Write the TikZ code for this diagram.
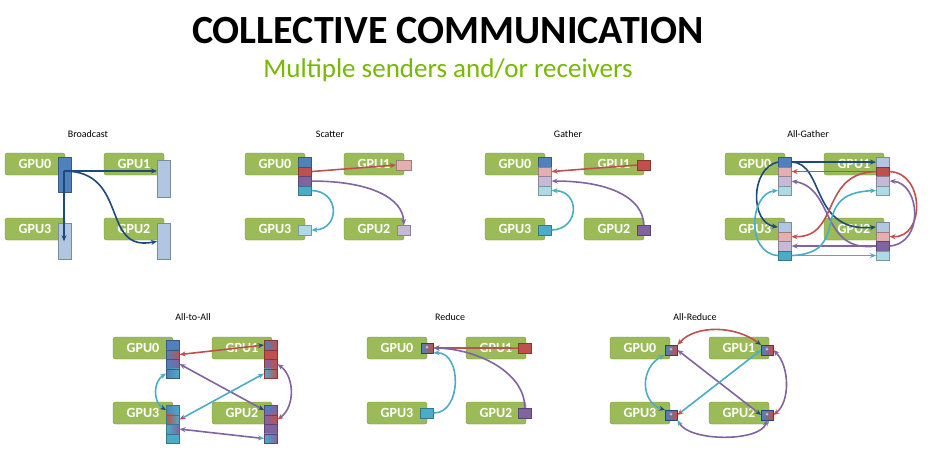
\documentclass[tikz,border=0pt]{standalone}
\usepackage{fontspec}
\setmainfont{Carlito}
\usetikzlibrary{arrows.meta}
\definecolor{gg}{RGB}{155,187,89}
\definecolor{ggd}{RGB}{118,146,60}
\definecolor{nv}{RGB}{118,185,0}
\definecolor{cb}{RGB}{79,129,189}
\definecolor{cr}{RGB}{192,80,77}
\definecolor{cp}{RGB}{128,100,162}
\definecolor{cc}{RGB}{75,172,198}
\definecolor{cd}{RGB}{31,73,125}
\colorlet{lb}{cb!45!white}
\colorlet{lr}{cr!45!white}
\colorlet{lp}{cp!45!white}
\colorlet{lc}{cc!45!white}
\tikzset{
 gpu/.style={draw=ggd,fill=gg,rounded corners=2.5pt,minimum width=60pt,minimum height=22pt,inner sep=0pt,text=white,font=\fontsize{14}{14}\selectfont\bfseries},
 chunk/.style={draw=#1!70!black,fill=#1,anchor=north west,minimum width=13pt,minimum height=9.5pt,inner sep=0pt,line width=0.6pt},
 pl/.style={font=\fontsize{10}{10}\selectfont},
 ar/.style={line width=1.6pt,-{Stealth[length=6pt,width=5pt]}},
 br/.style={line width=1.6pt,{Stealth[length=6pt,width=5pt]}-{Stealth[length=6pt,width=5pt,color=#1]}},
 plus/.style={anchor=north west,minimum width=12pt,minimum height=9.5pt,inner sep=0pt,draw=cd,left color=cb,right color=cr,text=white,font=\fontsize{6}{6}\selectfont\bfseries}
}
\newcommand\gpus[1]{%
 \node[gpu] (#1g0) at (30,11) {GPU0};
 \node[gpu] (#1g1) at (129,11) {GPU1};
 \node[gpu] (#1g3) at (30,76) {GPU3};
 \node[gpu] (#1g2) at (129,76) {GPU2};}
\newcommand\colm[7]{%
 \node[chunk=#4] (#1-0) at (#2,#3) {};
 \node[chunk=#5] (#1-1) at (#2,#3+9.5) {};
 \node[chunk=#6] (#1-2) at (#2,#3+19) {};
 \node[chunk=#7] (#1-3) at (#2,#3+28.5) {};}
\newcommand\gcol[6]{%
 \node[chunk=cb,shading=axis,left color=#3,right color=#3] (#1-0) at #2 {};}
\begin{document}
\begin{tikzpicture}[x=1pt,y=-1pt]
\useasboundingbox (0,0) rectangle (928,453);
\node[font=\fontsize{40}{40}\selectfont\bfseries] (title) at (448,31) {COLLECTIVE COMMUNICATION};
\node[font=\fontsize{27}{27}\selectfont,text=nv] (sub) at (448,70) {Multiple senders and/or receivers};
% Broadcast
\begin{scope}[shift={(5,153)}]
\node[pl] (bl) at (83,-19) {Broadcast};
\gpus{b}
\node[chunk=cb,minimum height=35pt] (b0) at (53,4) {};
\node[chunk=lb,minimum height=37pt] (b1) at (152,7) {};
\node[chunk=lb,minimum height=36pt] (b3) at (53,70) {};
\node[chunk=lb,minimum height=36pt] (b2) at (152,70) {};
\coordinate (bs) at (59,18);
\draw[ar,cd] (bs) -- (b1.west |- bs);
\draw[ar,cd] (bs) -- (bs |- b3.center);
\draw[ar,cd] (bs) .. controls (125,18) and (95,100) .. (b2.west);
\end{scope}
% Scatter
\begin{scope}[shift={(245,153)}]
\node[pl] (sl) at (85,-19) {Scatter};
\gpus{s}
\colm{s0}{53}{4}{cb}{cr}{cp}{cc}
\node[chunk=lr,minimum width=15pt] (s1) at (151,7) {};
\node[chunk=lp] (s2) at (152,72) {};
\node[chunk=lc] (s3) at (53,72) {};
\draw[ar,cr] (s0-1.east) -- (s1.west);
\draw[ar,cp] (s0-2.east) .. controls (125,28) and (158,45) .. (s2.north);
\draw[ar,cc] (s0-3.east) .. controls (95,38) and (95,76) .. (s3.east);
\end{scope}
% Gather
\begin{scope}[shift={(485,153)}]
\node[pl] (gl) at (83,-19) {Gather};
\gpus{h}
\colm{h0}{53}{4}{cb}{lr}{lp}{lc}
\node[chunk=cr] (h1) at (152,7) {};
\node[chunk=cp] (h2) at (152,72) {};
\node[chunk=cc] (h3) at (53,72) {};
\draw[ar,cr] (h1.west) -- (h0-1.east);
\draw[ar,cp] (h2.north) .. controls (158,45) and (125,28) .. (h0-2.east);
\draw[ar,cc] (h3.east) .. controls (95,76) and (95,38) .. (h0-3.east);
\end{scope}
% All-Gather
\begin{scope}[shift={(725,153)}]
\node[pl] (al) at (83,-19) {All-Gather};
\gpus{a}
\colm{a0}{53}{4}{cb}{lr}{lp}{lc}
\colm{a1}{151}{4}{lb}{cr}{lp}{lc}
\colm{a2}{151}{69}{lb}{lr}{cp}{lc}
\colm{a3}{53}{69}{lb}{lr}{lp}{cc}
\draw[ar,cd] (a0-0.east) -- (a1-0.west);
\draw[ar,cd] (a0-0.west) .. controls (25,15) and (25,70) .. (a3-0.west);
\draw[ar,cd] (a0-0.east) .. controls (100,10) and (85,80) .. (a2-0.west);
\draw[ar,cr] (a1-1.west) -- (a0-1.east);
\draw[ar,cr] (a1-1.west) .. controls (95,20) and (115,85) .. (a3-1.east);
\draw[ar,cr] (a1-1.east) .. controls (200,20) and (200,85) .. (a2-1.east);
\draw[ar,cp] (a2-2.west) -- (a3-2.east);
\draw[ar,cp] (a2-2.west) .. controls (95,100) and (110,35) .. (a0-2.east);
\draw[ar,cp] (a2-2.east) .. controls (200,90) and (195,30) .. (a1-2.east);
\draw[ar,cc] (a3-3.east) -- (a2-3.west);
\draw[ar,cc] (a3-3.west) .. controls (20,100) and (25,40) .. (a0-3.west);
\draw[ar,cc] (a3-3.east) .. controls (130,100) and (80,40) .. (a1-3.west);
\end{scope}
% All-to-All
\begin{scope}[shift={(113,337)}]
\node[pl] (tl) at (80,-20) {All-to-All};
\gpus{t}
\node[chunk=cb] (t0-0) at (53,3) {};
\node[chunk=cb,left color=cb,right color=cr] (t0-1) at (53,12.5) {};
\node[chunk=cb,left color=cb,right color=cp] (t0-2) at (53,22) {};
\node[chunk=cb,left color=cb,right color=cc] (t0-3) at (53,31.5) {};
\node[chunk=cr,left color=cb,right color=cr] (t1-0) at (151,3) {};
\node[chunk=cr] (t1-1) at (151,12.5) {};
\node[chunk=cr,left color=cp,right color=cr] (t1-2) at (151,22) {};
\node[chunk=cr,left color=cc,right color=cr] (t1-3) at (151,31.5) {};
\node[chunk=cp,left color=cb,right color=cp] (t2-0) at (151,68) {};
\node[chunk=cp,left color=cp,right color=cr] (t2-1) at (151,77.5) {};
\node[chunk=cp] (t2-2) at (151,87) {};
\node[chunk=cp,left color=cc,right color=cp] (t2-3) at (151,96.5) {};
\node[chunk=cc,left color=cb,right color=cc] (t3-0) at (53,68) {};
\node[chunk=cc,left color=cr,right color=cc] (t3-1) at (53,77.5) {};
\node[chunk=cc,left color=cc,right color=cp] (t3-2) at (53,87) {};
\node[chunk=cc] (t3-3) at (53,96.5) {};
\draw[br=cd,cr] (t0-1.east) -- (t1-0.west);
\draw[br=cd,cp] (t0-2.east) -- (t2-0.west);
\draw[br=cd,cc] (t0-3.west) .. controls (40,45) and (40,65) .. (t3-0.west);
\draw[br=cr,cp] (t1-2.east) .. controls (182,40) and (182,70) .. (t2-1.east);
\draw[br=cr,cc] (t1-3.west) -- (t3-1.east);
\draw[br=cc,cp] (t3-2.east) -- (t2-3.west);
\end{scope}
% Reduce
\begin{scope}[shift={(367,337)}]
\node[pl] (rl) at (83,-20) {Reduce};
\gpus{r}
\node[plus] (r0) at (54,6) {+};
\node[chunk=cr] (r1) at (151,6) {};
\node[chunk=cp] (r2) at (151,71) {};
\node[chunk=cc] (r3) at (53,71) {};
\draw[ar,cr] (r1.west) -- (r0.east);
\draw[ar,cp] (r2.north) .. controls (158,35) and (110,12) .. (r0.east);
\draw[ar,cc] (r3.east) .. controls (95,76) and (95,15) .. (r0.south east);
\end{scope}
% All-Reduce
\begin{scope}[shift={(610,337)}]
\node[pl] (ql) at (85,-20) {All-Reduce};
\gpus{q}
\node[plus] (q0) at (55,8) {+};
\node[plus] (q1) at (151,8) {+};
\node[plus] (q2) at (151,73) {+};
\node[plus] (q3) at (55,73) {+};
\draw[br=cd,cr] (q0.north east) .. controls (85,-12) and (125,-12) .. (q1.north west);
\draw[br=cd,cc] (q0.south west) .. controls (30,30) and (30,65) .. (q3.north west);
\draw[br=cd,cp] (q0.east) -- (q2.west);
\draw[br=cr,cc] (q1.west) -- (q3.east);
\draw[br=cr,cp] (q1.east) .. controls (180,30) and (180,65) .. (q2.east);
\draw[br=cc,cp] (q2.south) .. controls (150,105) and (80,105) .. (q3.south east);
\end{scope}
\end{tikzpicture}
\end{document}
